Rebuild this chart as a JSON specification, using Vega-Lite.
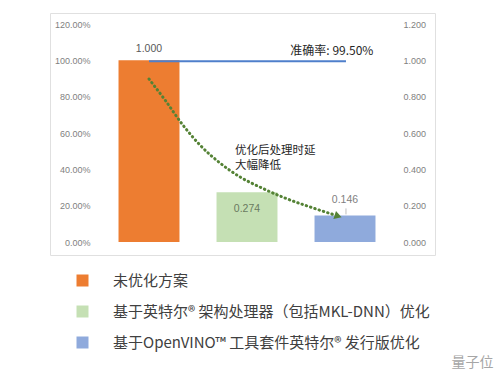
{
  "$schema": "https://vega.github.io/schema/vega-lite/v6.json",
  "width": 385,
  "height": 242,
  "autosize": {"type": "none"},
  "padding": {"left": 50, "top": 13, "right": 65, "bottom": 123},
  "background": "white",
  "config": {
    "view": {"stroke": "#e0e0e0", "strokeWidth": 1},
    "font": "Liberation Sans",
    "text": {"font": "Liberation Sans"}
  },
  "datasets": {
    "bars": [
      {"scheme": "未优化方案", "latency": 1.0},
      {"scheme": "基于英特尔® 架构处理器（包括MKL-DNN）优化", "latency": 0.274},
      {"scheme": "基于OpenVINO™ 工具套件英特尔® 发行版优化", "latency": 0.146}
    ],
    "curve": [
      {"pos": 0.5, "v": 0.897},
      {"pos": 0.663, "v": 0.782},
      {"pos": 0.837, "v": 0.65},
      {"pos": 1.02, "v": 0.534},
      {"pos": 1.224, "v": 0.435},
      {"pos": 1.429, "v": 0.358},
      {"pos": 1.653, "v": 0.297},
      {"pos": 1.888, "v": 0.242},
      {"pos": 2.143, "v": 0.193},
      {"pos": 2.4, "v": 0.148}
    ],
    "acc": [
      {"pos": 0.5, "v": 0.995},
      {"pos": 2.51, "v": 0.995}
    ],
    "arrow": [{"pos": 2.43, "v": 0.143}],
    "leader": [{"pos": 2.51, "v": 0.152, "v2": 0.185}],
    "accLabel": [{"pos": 2.79, "v": 1.051, "txt": "准确率: 99.50%"}],
    "delayLabel": [
      {"pos": 1.378, "v": 0.5, "txt": "优化后处理时延"},
      {"pos": 1.378, "v": 0.418, "txt": "大幅降低"}
    ],
    "mark": [{"pos": 3.8, "v": -0.666, "txt": "量子位"}]
  },
  "layer": [
    {
      "data": {"name": "bars"},
      "encoding": {
        "x": {
          "field": "scheme", "type": "nominal", "sort": null, "axis": null,
          "scale": {
            "domain": ["未优化方案", "基于英特尔® 架构处理器（包括MKL-DNN）优化", "基于OpenVINO™ 工具套件英特尔® 发行版优化"],
            "range": [50, 344], "paddingInner": 0.378, "paddingOuter": 0.189
          }
        },
        "y": {
          "field": "latency", "type": "quantitative",
          "scale": {"domain": [0, 1.2], "range": [229, 11], "nice": false},
          "axis": {
            "orient": "left", "offset": -50, "format": ".2%",
            "values": [0, 0.2, 0.4, 0.6, 0.8, 1.0, 1.2],
            "grid": false, "domain": false, "ticks": false, "tickSize": 0,
            "labelPadding": 10, "labelFontSize": 9, "labelColor": "#7f7f7f", "title": null
          }
        }
      },
      "layer": [
        {
          "mark": {"type": "bar"},
          "encoding": {
            "color": {
              "field": "scheme", "type": "nominal", "sort": null,
              "scale": {
                "domain": ["未优化方案", "基于英特尔® 架构处理器（包括MKL-DNN）优化", "基于OpenVINO™ 工具套件英特尔® 发行版优化"],
                "range": ["#ED7D31", "#C5E0B4", "#8FAADC"]
              },
              "legend": {
                "title": null, "orient": "none", "legendX": 25, "legendY": 260,
                "direction": "vertical", "symbolType": "square", "symbolSize": 144,
                "symbolStrokeWidth": 0, "labelFontSize": 15, "labelFont": "Noto Sans CJK SC",
                "labelColor": "#404040", "labelOffset": 23, "rowPadding": 15, "labelLimit": 400
              }
            }
          }
        },
        {
          "transform": [{"filter": "datum.latency == 1"}],
          "mark": {"type": "text", "dy": -11, "fontSize": 10.5, "color": "#595959"},
          "encoding": {"text": {"field": "latency", "format": ".3f"}}
        },
        {
          "transform": [{"filter": "datum.latency == 0.274"}],
          "mark": {"type": "text", "dy": 17, "fontSize": 10.5, "color": "#6a7a60"},
          "encoding": {"text": {"field": "latency", "format": ".3f"}}
        },
        {
          "transform": [{"filter": "datum.latency == 0.146"}],
          "mark": {"type": "text", "dy": -15, "fontSize": 10.5, "color": "#7f7f7f"},
          "encoding": {"text": {"field": "latency", "format": ".3f"}}
        }
      ]
    },
    {
      "encoding": {
        "x": {
          "field": "pos", "type": "quantitative", "axis": null,
          "scale": {"domain": [0, 3], "range": [50, 344], "nice": false, "zero": false}
        },
        "y": {
          "field": "v", "type": "quantitative",
          "scale": {"domain": [0, 1.2], "range": [229, 11], "nice": false},
          "axis": {
            "orient": "right", "offset": -41, "format": ".3f",
            "values": [0, 0.2, 0.4, 0.6, 0.8, 1.0, 1.2],
            "grid": false, "domain": false, "ticks": false, "tickSize": 0,
            "labelPadding": 9, "labelFontSize": 9, "labelColor": "#7f7f7f", "title": null
          }
        }
      },
      "layer": [
        {
          "data": {"name": "acc"},
          "mark": {"type": "line", "color": "#4F7FCB", "strokeWidth": 2}
        },
        {
          "data": {"name": "curve"},
          "mark": {"type": "line", "color": "#548235", "strokeWidth": 3, "strokeDash": [0.5, 4], "strokeCap": "round", "interpolate": "monotone"}
        },
        {
          "data": {"name": "arrow"},
          "mark": {"type": "point", "shape": "triangle-right", "filled": true, "size": 70, "angle": 18, "color": "#548235", "opacity": 1}
        },
        {
          "data": {"name": "leader"},
          "mark": {"type": "rule", "color": "#bfbfbf", "strokeWidth": 1},
          "encoding": {"y2": {"field": "v2"}}
        },
        {
          "data": {"name": "accLabel"},
          "mark": {"type": "text", "align": "right", "baseline": "middle", "fontSize": 12, "color": "#262626", "font": "Noto Sans CJK SC"},
          "encoding": {"text": {"field": "txt"}}
        },
        {
          "data": {"name": "delayLabel"},
          "mark": {"type": "text", "align": "left", "baseline": "middle", "fontSize": 11.5, "color": "#262626", "font": "Noto Sans CJK SC"},
          "encoding": {"text": {"field": "txt"}}
        },
        {
          "data": {"name": "mark"},
          "mark": {"type": "text", "align": "center", "baseline": "middle", "fontSize": 14, "color": "#a6a6a6", "font": "Noto Sans CJK SC"},
          "encoding": {"text": {"field": "txt"}}
        }
      ]
    }
  ],
  "resolve": {
    "scale": {"x": "independent", "y": "independent"},
    "axis": {"x": "independent", "y": "independent"}
  }
}
